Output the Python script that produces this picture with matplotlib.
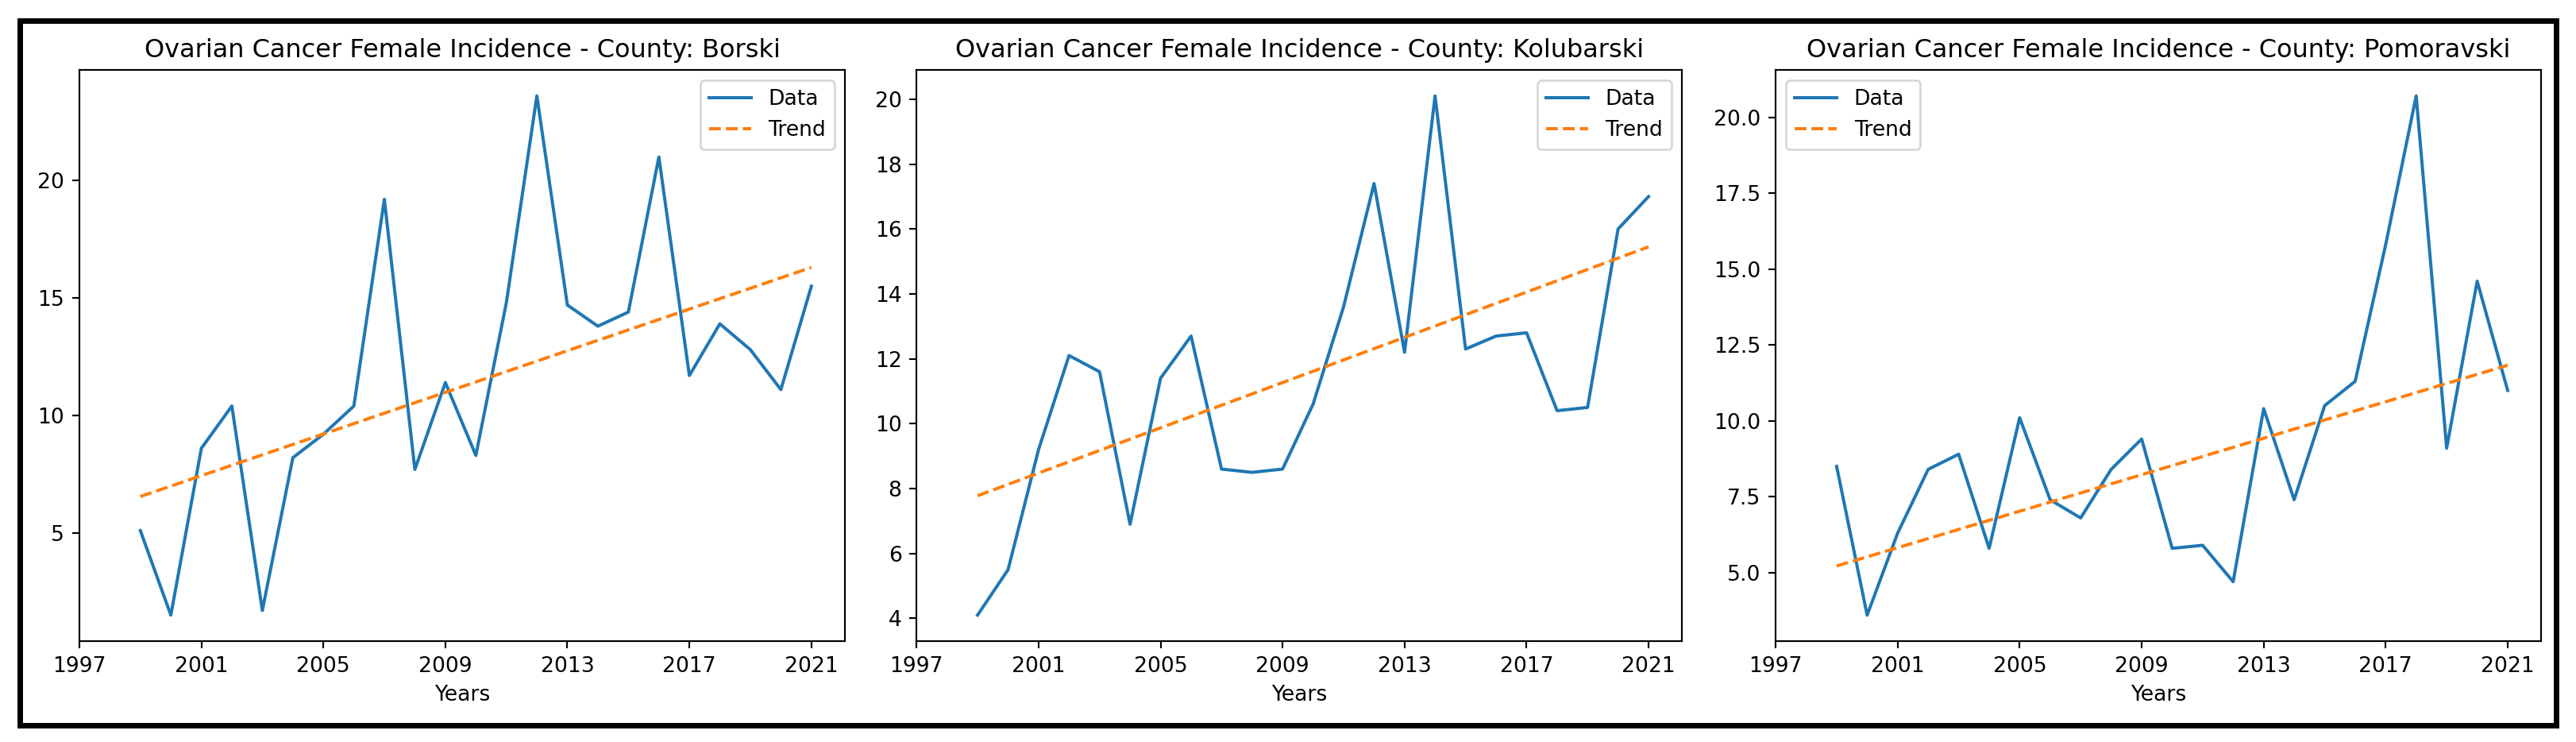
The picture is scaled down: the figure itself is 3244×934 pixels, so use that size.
import matplotlib
matplotlib.use("Agg")
import matplotlib.pyplot as plt
from matplotlib.patches import Rectangle

years = list(range(1999, 2022))

borski = [5.1, 1.5, 8.6, 10.4, 1.7, 8.2, 9.2, 10.4, 19.2, 7.7, 11.4, 8.3,
          14.8, 23.6, 14.7, 13.8, 14.4, 21.0, 11.7, 13.9, 12.8, 11.1, 15.5]
kolubarski = [4.1, 5.5, 9.2, 12.1, 11.6, 6.9, 11.4, 12.7, 8.6, 8.5, 8.6, 10.6,
              13.6, 17.4, 12.2, 20.1, 12.3, 12.7, 12.8, 10.4, 10.5, 16.0, 17.0]
pomoravski = [8.5, 3.6, 6.3, 8.4, 8.9, 5.8, 10.1, 7.4, 6.8, 8.4, 9.4, 5.8,
              5.9, 4.7, 10.4, 7.4, 10.5, 11.3, 15.8, 20.7, 9.1, 14.6, 11.0]

# trend line values at first and last year
borski_trend = [6.55, 16.3]
kolubarski_trend = [7.78, 15.45]
pomoravski_trend = [5.22, 11.83]

counties = ["Borski", "Kolubarski", "Pomoravski"]
series = [borski, kolubarski, pomoravski]
trends = [borski_trend, kolubarski_trend, pomoravski_trend]
legend_locs = ["upper right", "upper right", "upper left"]
xticks = list(range(1997, 2022, 4))

DPI = 192


def main():
    fig = plt.figure(figsize=(3244 / DPI, 934 / DPI), dpi=DPI)
    lefts = [0.0308, 0.3558, 0.6893]
    for left, county, vals, tr, loc in zip(lefts, counties, series, trends, legend_locs):
        ax = fig.add_axes([left, 0.136, 0.2972, 0.7697])
        ax.plot(years, vals, color="C0", label="Data")
        ax.plot([years[0], years[-1]], tr, "--", color="C1", label="Trend")
        ax.set_xticks(xticks)
        ax.set_xlabel("Years")
        ax.set_title(f"Ovarian Cancer Female Incidence - County: {county}")
        ax.legend(loc=loc)

    # black frame around the whole figure
    fig.patches.append(Rectangle((0.0077, 0.0225), 0.9846, 0.9497,
                                 transform=fig.transFigure, fill=False,
                                 edgecolor="black", linewidth=2.6))

    fig.savefig("out.png", dpi=DPI)
    plt.close(fig)


if __name__ == "__main__":
    main()
